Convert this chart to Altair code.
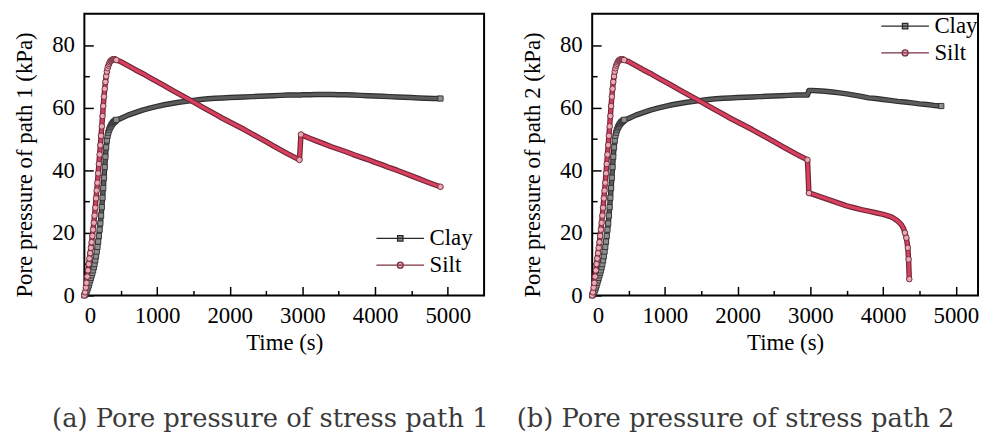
import altair as alt
import pandas as pd

# ---------------- data ----------------
# loading stage (identical in both stress paths)
t_rise = [0, 10, 20, 30, 40, 50, 60, 70, 80, 90, 100, 110, 120, 130, 140, 150,
          160, 170, 180, 190, 200, 210, 220, 230, 240, 250, 260, 270, 280, 290,
          300, 310, 320, 330, 340, 350, 360, 370, 380, 390, 400, 410, 420, 430, 440]
clay_rise = [0.0, 0.3, 0.7, 1.2, 1.8, 2.5, 3.2, 4.0, 4.8, 5.6, 6.4, 7.2, 8.0, 9.0,
             10.0, 11.2, 12.5, 14.0, 15.5, 17.2, 19.0, 21.0, 23.0, 25.5, 28.2, 31.2,
             34.3, 37.6, 41.0, 44.3, 47.3, 49.5, 51.0, 52.0, 52.8, 53.4, 53.9, 54.3,
             54.7, 55.0, 55.3, 55.5, 55.7, 55.9, 56.1]
silt_rise = [0.0, 1.0, 2.5, 4.0, 6.0, 8.0, 10.0, 11.8, 13.5, 15.2, 17.0, 19.0, 21.0,
             23.2, 25.5, 28.0, 31.0, 33.5, 36.0, 39.0, 42.0, 45.0, 48.0, 51.0, 54.0,
             57.3, 60.5, 63.5, 66.0, 68.2, 70.0, 71.5, 72.6, 73.4, 74.0, 74.5, 74.9,
             75.1, 75.3, 75.4, 75.4, 75.4, 75.4, 75.3, 75.2]

t_mid = [500, 600, 700, 800, 900, 1000, 1100, 1200, 1300, 1400, 1500, 1600, 1700,
         1800, 1900, 2000, 2100, 2200, 2300, 2400, 2500, 2600, 2700, 2800, 2900, 2960]
clay_mid = [56.5, 57.6, 58.4, 59.2, 59.8, 60.4, 60.9, 61.3, 61.7, 62.0, 62.3, 62.6,
            62.8, 63.0, 63.1, 63.2, 63.3, 63.4, 63.5, 63.6, 63.7, 63.8, 63.9, 64.0,
            64.0, 64.0]
silt_mid = [74.7, 73.4, 72.1, 70.9, 69.6, 68.3, 67.0, 65.7, 64.4, 63.1, 61.8, 60.5,
            59.2, 57.9, 56.6, 55.4, 54.2, 53.0, 51.7, 50.4, 49.1, 47.8, 46.5, 45.2,
            44.0, 43.3]

# stress path 1 after 2960 s
t_tail1 = [2980, 3000, 3100, 3200, 3300, 3400, 3500, 3600, 3700, 3800, 3900, 4000,
           4100, 4200, 4300, 4400, 4500, 4600, 4700, 4800, 4900]
clay_tail1 = [64.0, 64.1, 64.1, 64.2, 64.2, 64.2, 64.1, 64.1, 64.0, 63.9, 63.8, 63.7,
              63.6, 63.5, 63.4, 63.3, 63.2, 63.1, 63.0, 62.9, 62.9]
silt_tail1 = [51.4, 51.2, 50.2, 49.3, 48.4, 47.5, 46.7, 45.9, 45.0, 44.2, 43.4, 42.5,
              41.7, 40.8, 40.0, 39.1, 38.2, 37.3, 36.4, 35.5, 34.7]

# stress path 2 after 2960 s
t_clay_tail2 = [2980, 3000, 3100, 3200, 3300, 3400, 3500, 3600, 3700, 3800, 3900,
                4000, 4100, 4200, 4300, 4400, 4500, 4600, 4700, 4800]
clay_tail2 = [65.5, 65.5, 65.4, 65.2, 65.0, 64.7, 64.4, 64.0, 63.6, 63.1, 62.9, 62.6,
              62.3, 62.0, 61.8, 61.5, 61.2, 61.0, 60.7, 60.5]
t_silt_tail2 = [2980, 3000, 3100, 3200, 3300, 3400, 3500, 3600, 3700, 3800, 3900,
                4000, 4100, 4150, 4200, 4250, 4280, 4300, 4320, 4340, 4350, 4360]
silt_tail2 = [32.7, 32.6, 31.8, 31.0, 30.2, 29.4, 28.6, 28.0, 27.4, 26.9, 26.4, 25.9,
              25.2, 24.6, 23.8, 22.6, 21.4, 20.0, 18.4, 15.2, 11.5, 5.2]

series_names = ["Clay", "Silt"]
x_major = [0, 1000, 2000, 3000, 4000, 5000]
x_minor = [500, 1500, 2500, 3500, 4500]
y_major = [0, 20, 40, 60, 80]
y_minor = [10, 30, 50, 70]
captions = ["(a) Pore pressure of stress path 1", "(b) Pore pressure of stress path 2"]


def frame(ct, cp, st, sp):
    rows = [{"t": a, "p": b, "series": "Clay"} for a, b in zip(ct, cp)]
    rows += [{"t": a, "p": b, "series": "Silt"} for a, b in zip(st, sp)]
    return pd.DataFrame(rows)


df1 = frame(t_rise + t_mid + t_tail1, clay_rise + clay_mid + clay_tail1,
            t_rise + t_mid + t_tail1, silt_rise + silt_mid + silt_tail1)
df2 = frame(t_rise + t_mid + t_clay_tail2, clay_rise + clay_mid + clay_tail2,
            t_rise + t_mid + t_silt_tail2, silt_rise + silt_mid + silt_tail2)

SERIF = "Liberation Serif"
SQ = "M-4,0L4,0M-0.45,-0.45L0.45,-0.45L0.45,0.45L-0.45,0.45Z"
CI = "M-4,0L4,0M0.5,0A0.5,0.5,0,1,1,-0.5,0A0.5,0.5,0,1,1,0.5,0Z"
H = 284


def panel(df, ytitle, xmax, width, lx, ly, caption, cap_dx):
    xs = alt.Scale(domain=[0, xmax], nice=False, zero=False)
    ys = alt.Scale(domain=[0, 90], nice=False, zero=False)
    X = alt.X("t:Q", scale=xs,
              axis=alt.Axis(title="Time (s)", orient="bottom", values=x_major, format="d",
                            tickSize=0, domain=False, grid=False, labelPadding=9,
                            titlePadding=5))
    Y = alt.Y("p:Q", scale=ys,
              axis=alt.Axis(title=ytitle, orient="left", values=y_major, tickSize=0,
                            domain=False, grid=False, labelPadding=10, titlePadding=15,
                            titleY=152))
    base = alt.Chart(df)

    def line(s, color, w):
        return base.transform_filter(alt.datum.series == s).mark_line(
            color=color, strokeWidth=w, strokeJoin="round", strokeCap="round"
        ).encode(x=X, y=Y)

    clay_pts = base.transform_filter(alt.datum.series == "Clay").transform_joinaggregate(
        tmax="max(t)").transform_filter("datum.t <= 440 || datum.t == datum.tmax").mark_square(
        size=28, color="#8e8e8e", stroke="#2a2a2a", strokeWidth=0.8, opacity=1
    ).encode(x=X, y=Y)
    silt_pts = base.transform_filter(alt.datum.series == "Silt").transform_joinaggregate(
        tmax="max(t)").transform_filter(
        "datum.t <= 440 || datum.p < 21 || datum.t == 2960 || datum.t == 2980 || datum.t == datum.tmax"
    ).mark_circle(size=32, color="#eaaab5", stroke="#6e2636", strokeWidth=0.9, opacity=1
                  ).encode(x=X, y=Y)

    leg = alt.Legend(title=None, orient="none", legendX=lx, legendY=ly, symbolSize=144,
                     labelOffset=18, labelFont=SERIF, labelFontSize=23, labelColor="black",
                     rowPadding=3, padding=0, symbolStrokeWidth=1.3, symbolOpacity=1)
    legend_layer = base.transform_filter("datum.t < 0").mark_point(
        filled=True, opacity=1, size=144
    ).encode(
        x=X, y=Y,
        shape=alt.Shape("series:N", scale=alt.Scale(domain=series_names, range=[SQ, CI]), legend=leg),
        fill=alt.Fill("series:N", scale=alt.Scale(domain=series_names, range=["#8e8e8e", "#eaaab5"]), legend=leg),
        stroke=alt.Stroke("series:N", scale=alt.Scale(domain=series_names, range=["#2a2a2a", "#7a3344"]), legend=leg),
    )

    data_layer = alt.layer(
        line("Clay", "#2e2e2e", 5.5), line("Clay", "#5c5c5c", 3.2),
        line("Silt", "#6e2636", 5.5), line("Silt", "#d8405f", 3.2),
        clay_pts, silt_pts, legend_layer,
    )

    def ticks(size, xv, yv):
        return base.mark_point(opacity=0).encode(
            x=alt.X("t:Q", scale=alt.Scale(domain=[0, xmax], nice=False, zero=False),
                    axis=alt.Axis(orient="bottom", offset=-size, tickSize=size, values=xv,
                                  labels=False, domain=False, title=None, grid=False)),
            y=alt.Y("p:Q", scale=alt.Scale(domain=[0, 90], nice=False, zero=False),
                    axis=alt.Axis(orient="left", offset=-size, tickSize=size, values=yv,
                                  labels=False, domain=False, title=None, grid=False)),
        )

    return alt.layer(data_layer, ticks(9, x_major, y_major), ticks(5, x_minor, y_minor)).resolve_scale(
        x="independent", y="independent"
    ).properties(
        width=width, height=H,
        title=alt.TitleParams(caption, orient="bottom", anchor="middle", frame="group",
                              font="DejaVu Serif", fontSize=26, fontWeight="normal",
                              color="#3a3a3a", offset=52, dx=cap_dx),
    )


# the right-hand panel is cut by the page edge in the original, so its visible
# part is narrower (same px-per-second scale as the left panel)
p1 = panel(df1, "Pore pressure of path 1 (kPa)", 5500, 403, 307, 215, captions[0], -14)
p2 = panel(df2, "Pore pressure of path 2 (kPa)", 5305, 389, 304, 1, captions[1], -50)

chart = alt.hconcat(p1, p2, spacing=25).resolve_scale(
    shape="independent", fill="independent", stroke="independent"
).configure_view(stroke="black", strokeWidth=2).configure_axis(
    labelFont=SERIF, labelFontSize=23, labelColor="black",
    titleFont=SERIF, titleFontSize=23, titleFontWeight="normal", titleColor="black",
    tickColor="black", tickWidth=1.5,
).properties(padding={"left": 5, "top": 3, "right": 0, "bottom": 0})

chart.save("out.html", embed_options={"renderer": "svg", "actions": False})
